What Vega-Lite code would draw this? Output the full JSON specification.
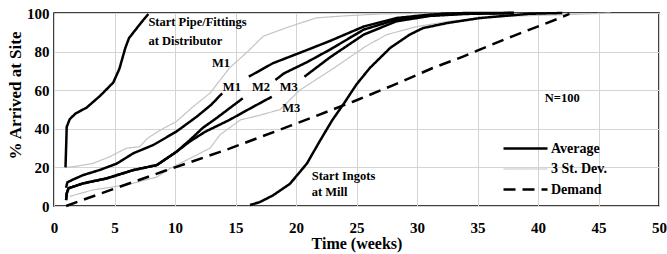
{
  "$schema": "https://vega.github.io/schema/vega-lite/v6.json",
  "autosize": {"type": "none"},
  "padding": {"left": 54, "top": 13, "right": 8, "bottom": 48},
  "width": 605,
  "height": 193,
  "background": "white",
  "config": {
    "view": {"stroke": "black", "strokeWidth": 1.5},
    "font": "Liberation Serif",
    "axis": {
      "labelFont": "Liberation Serif", "labelFontWeight": "bold", "labelFontSize": 15, "labelColor": "black",
      "titleFont": "Liberation Serif", "titleFontWeight": "bold", "titleColor": "black",
      "grid": true, "gridColor": "#d4d4d4", "gridWidth": 1, "domain": false, "ticks": false,
      "labelOverlap": false, "labelFlush": false, "labelBound": false
    }
  },
  "datasets": {
    "lines": [
      {"s": "a_gu", "t": "3 St. Dev.", "x": 1.0, "y": 20},
      {"s": "a_gu", "t": "3 St. Dev.", "x": 1.6, "y": 20.4},
      {"s": "a_gu", "t": "3 St. Dev.", "x": 3.2, "y": 22},
      {"s": "a_gu", "t": "3 St. Dev.", "x": 4.6, "y": 25.5},
      {"s": "a_gu", "t": "3 St. Dev.", "x": 6.0, "y": 30},
      {"s": "a_gu", "t": "3 St. Dev.", "x": 7.1, "y": 30.7},
      {"s": "a_gu", "t": "3 St. Dev.", "x": 7.7, "y": 35},
      {"s": "a_gu", "t": "3 St. Dev.", "x": 8.8, "y": 39.4},
      {"s": "a_gu", "t": "3 St. Dev.", "x": 10.1, "y": 43.7},
      {"s": "a_gu", "t": "3 St. Dev.", "x": 11.5, "y": 51.5},
      {"s": "a_gu", "t": "3 St. Dev.", "x": 12.9, "y": 58.5},
      {"s": "a_gu", "t": "3 St. Dev.", "x": 14.5, "y": 71.5},
      {"s": "a_gu", "t": "3 St. Dev.", "x": 16.0, "y": 80},
      {"s": "a_gu", "t": "3 St. Dev.", "x": 17.3, "y": 88},
      {"s": "a_gu", "t": "3 St. Dev.", "x": 19.5, "y": 93},
      {"s": "a_gu", "t": "3 St. Dev.", "x": 21.7, "y": 97.5},
      {"s": "a_gu", "t": "3 St. Dev.", "x": 24.0, "y": 98.5},
      {"s": "a_gu", "t": "3 St. Dev.", "x": 27.0, "y": 99.5},
      {"s": "a_gu", "t": "3 St. Dev.", "x": 32.0, "y": 100},
      {"s": "a_gl", "t": "3 St. Dev.", "x": 1.3, "y": 5},
      {"s": "a_gl", "t": "3 St. Dev.", "x": 3.2, "y": 8.3},
      {"s": "a_gl", "t": "3 St. Dev.", "x": 6.0, "y": 11},
      {"s": "a_gl", "t": "3 St. Dev.", "x": 8.5, "y": 15},
      {"s": "a_gl", "t": "3 St. Dev.", "x": 9.6, "y": 19.5},
      {"s": "a_gl", "t": "3 St. Dev.", "x": 11.5, "y": 25.5},
      {"s": "a_gl", "t": "3 St. Dev.", "x": 12.9, "y": 30},
      {"s": "a_gl", "t": "3 St. Dev.", "x": 13.7, "y": 36.8},
      {"s": "a_gl", "t": "3 St. Dev.", "x": 15.4, "y": 44.6},
      {"s": "a_gl", "t": "3 St. Dev.", "x": 17.0, "y": 47},
      {"s": "a_gl", "t": "3 St. Dev.", "x": 18.7, "y": 50},
      {"s": "a_gl", "t": "3 St. Dev.", "x": 20.3, "y": 60},
      {"s": "a_gl", "t": "3 St. Dev.", "x": 23.1, "y": 71.3},
      {"s": "a_gl", "t": "3 St. Dev.", "x": 25.7, "y": 82.5},
      {"s": "a_gl", "t": "3 St. Dev.", "x": 27.5, "y": 88.8},
      {"s": "a_gl", "t": "3 St. Dev.", "x": 30.0, "y": 93},
      {"s": "a_gl", "t": "3 St. Dev.", "x": 33.0, "y": 96},
      {"s": "a_gl", "t": "3 St. Dev.", "x": 37.4, "y": 98.3},
      {"s": "a_gl", "t": "3 St. Dev.", "x": 43.0, "y": 99.3},
      {"s": "a_gl", "t": "3 St. Dev.", "x": 46.0, "y": 100},
      {"s": "b_dem", "t": "Demand", "x": 1.0, "y": 0},
      {"s": "b_dem", "t": "Demand", "x": 2.0, "y": 2.3},
      {"s": "b_dem", "t": "Demand", "x": 5.0, "y": 9},
      {"s": "b_dem", "t": "Demand", "x": 9.3, "y": 18.5},
      {"s": "b_dem", "t": "Demand", "x": 14.5, "y": 29.7},
      {"s": "b_dem", "t": "Demand", "x": 19.5, "y": 41.5},
      {"s": "b_dem", "t": "Demand", "x": 24.7, "y": 54},
      {"s": "b_dem", "t": "Demand", "x": 28.0, "y": 62.5},
      {"s": "b_dem", "t": "Demand", "x": 31.3, "y": 71.5},
      {"s": "b_dem", "t": "Demand", "x": 33.8, "y": 77.4},
      {"s": "b_dem", "t": "Demand", "x": 37.5, "y": 87},
      {"s": "b_dem", "t": "Demand", "x": 41.8, "y": 97.4},
      {"s": "b_dem", "t": "Demand", "x": 42.6, "y": 99.5},
      {"s": "c_pipe", "t": "Average", "x": 0.95, "y": 20},
      {"s": "c_pipe", "t": "Average", "x": 1.0, "y": 30},
      {"s": "c_pipe", "t": "Average", "x": 1.05, "y": 41},
      {"s": "c_pipe", "t": "Average", "x": 1.3, "y": 45},
      {"s": "c_pipe", "t": "Average", "x": 1.8, "y": 48},
      {"s": "c_pipe", "t": "Average", "x": 2.7, "y": 51},
      {"s": "c_pipe", "t": "Average", "x": 3.8, "y": 57},
      {"s": "c_pipe", "t": "Average", "x": 4.9, "y": 64},
      {"s": "c_pipe", "t": "Average", "x": 5.4, "y": 71},
      {"s": "c_pipe", "t": "Average", "x": 5.9, "y": 82},
      {"s": "c_pipe", "t": "Average", "x": 6.2, "y": 87},
      {"s": "c_pipe", "t": "Average", "x": 6.7, "y": 91},
      {"s": "c_pipe", "t": "Average", "x": 7.2, "y": 95},
      {"s": "c_pipe", "t": "Average", "x": 7.8, "y": 99.5},
      {"s": "d_m1a", "t": "Average", "x": 1.0, "y": 9.5},
      {"s": "d_m1a", "t": "Average", "x": 1.1, "y": 12.2},
      {"s": "d_m1a", "t": "Average", "x": 1.5, "y": 13.5},
      {"s": "d_m1a", "t": "Average", "x": 2.4, "y": 16},
      {"s": "d_m1a", "t": "Average", "x": 3.8, "y": 18.7},
      {"s": "d_m1a", "t": "Average", "x": 5.2, "y": 22},
      {"s": "d_m1a", "t": "Average", "x": 6.55, "y": 27.3},
      {"s": "d_m1a", "t": "Average", "x": 8.2, "y": 31.6},
      {"s": "d_m1a", "t": "Average", "x": 10.1, "y": 38.5},
      {"s": "d_m1a", "t": "Average", "x": 11.8, "y": 46.3},
      {"s": "d_m1a", "t": "Average", "x": 13.0, "y": 52.5},
      {"s": "d_m1a", "t": "Average", "x": 13.9, "y": 58.4},
      {"s": "d_m1b", "t": "Average", "x": 16.1, "y": 67},
      {"s": "d_m1b", "t": "Average", "x": 18.1, "y": 74},
      {"s": "d_m1b", "t": "Average", "x": 20.9, "y": 80.8},
      {"s": "d_m1b", "t": "Average", "x": 22.8, "y": 85.5},
      {"s": "d_m1b", "t": "Average", "x": 25.6, "y": 93},
      {"s": "d_m1b", "t": "Average", "x": 28.3, "y": 97.4},
      {"s": "d_m1b", "t": "Average", "x": 31.1, "y": 99.2},
      {"s": "d_m1b", "t": "Average", "x": 34.0, "y": 100},
      {"s": "d_m1b", "t": "Average", "x": 38.0, "y": 100},
      {"s": "e_m2a", "t": "Average", "x": 1.0, "y": 3},
      {"s": "e_m2a", "t": "Average", "x": 1.05, "y": 6.5},
      {"s": "e_m2a", "t": "Average", "x": 1.2, "y": 9.2},
      {"s": "e_m2a", "t": "Average", "x": 2.4, "y": 11.7},
      {"s": "e_m2a", "t": "Average", "x": 4.35, "y": 14.3},
      {"s": "e_m2a", "t": "Average", "x": 6.55, "y": 18.6},
      {"s": "e_m2a", "t": "Average", "x": 8.5, "y": 21.2},
      {"s": "e_m2a", "t": "Average", "x": 10.1, "y": 28},
      {"s": "e_m2a", "t": "Average", "x": 11.2, "y": 34},
      {"s": "e_m2a", "t": "Average", "x": 12.3, "y": 40.5},
      {"s": "e_m2a", "t": "Average", "x": 13.4, "y": 45.4},
      {"s": "e_m2a", "t": "Average", "x": 14.5, "y": 50.6},
      {"s": "e_m2a", "t": "Average", "x": 15.6, "y": 55.8},
      {"s": "e_m2b", "t": "Average", "x": 18.3, "y": 65.3},
      {"s": "e_m2b", "t": "Average", "x": 19.0, "y": 68.7},
      {"s": "e_m2b", "t": "Average", "x": 20.9, "y": 74.5},
      {"s": "e_m2b", "t": "Average", "x": 22.8, "y": 81},
      {"s": "e_m2b", "t": "Average", "x": 25.6, "y": 91.4},
      {"s": "e_m2b", "t": "Average", "x": 28.3, "y": 96.6},
      {"s": "e_m2b", "t": "Average", "x": 31.1, "y": 98.8},
      {"s": "e_m2b", "t": "Average", "x": 34.0, "y": 99.7},
      {"s": "e_m2b", "t": "Average", "x": 38.0, "y": 100},
      {"s": "f_m3a", "t": "Average", "x": 1.0, "y": 3},
      {"s": "f_m3a", "t": "Average", "x": 1.05, "y": 6.5},
      {"s": "f_m3a", "t": "Average", "x": 1.2, "y": 9.2},
      {"s": "f_m3a", "t": "Average", "x": 2.4, "y": 11.7},
      {"s": "f_m3a", "t": "Average", "x": 4.35, "y": 14.3},
      {"s": "f_m3a", "t": "Average", "x": 6.55, "y": 18.6},
      {"s": "f_m3a", "t": "Average", "x": 8.5, "y": 21.2},
      {"s": "f_m3a", "t": "Average", "x": 10.1, "y": 28},
      {"s": "f_m3a", "t": "Average", "x": 11.2, "y": 33.3},
      {"s": "f_m3a", "t": "Average", "x": 12.5, "y": 38.5},
      {"s": "f_m3a", "t": "Average", "x": 14.5, "y": 44.6},
      {"s": "f_m3a", "t": "Average", "x": 16.2, "y": 50.5},
      {"s": "f_m3a", "t": "Average", "x": 18.0, "y": 56.6},
      {"s": "f_m3b", "t": "Average", "x": 20.7, "y": 67},
      {"s": "f_m3b", "t": "Average", "x": 22.8, "y": 77},
      {"s": "f_m3b", "t": "Average", "x": 25.6, "y": 88.8},
      {"s": "f_m3b", "t": "Average", "x": 28.3, "y": 95.7},
      {"s": "f_m3b", "t": "Average", "x": 31.1, "y": 98.5},
      {"s": "f_m3b", "t": "Average", "x": 34.0, "y": 99.5},
      {"s": "f_m3b", "t": "Average", "x": 38.0, "y": 100},
      {"s": "g_ingot", "t": "Average", "x": 16.2, "y": 0.5},
      {"s": "g_ingot", "t": "Average", "x": 17.0, "y": 2},
      {"s": "g_ingot", "t": "Average", "x": 18.1, "y": 5.5},
      {"s": "g_ingot", "t": "Average", "x": 19.5, "y": 11.5},
      {"s": "g_ingot", "t": "Average", "x": 20.9, "y": 22},
      {"s": "g_ingot", "t": "Average", "x": 22.0, "y": 34},
      {"s": "g_ingot", "t": "Average", "x": 23.0, "y": 44.5},
      {"s": "g_ingot", "t": "Average", "x": 24.0, "y": 53.5},
      {"s": "g_ingot", "t": "Average", "x": 25.0, "y": 63},
      {"s": "g_ingot", "t": "Average", "x": 26.1, "y": 71.5},
      {"s": "g_ingot", "t": "Average", "x": 27.8, "y": 82},
      {"s": "g_ingot", "t": "Average", "x": 29.4, "y": 88.8},
      {"s": "g_ingot", "t": "Average", "x": 30.5, "y": 92.2},
      {"s": "g_ingot", "t": "Average", "x": 32.5, "y": 94.8},
      {"s": "g_ingot", "t": "Average", "x": 35.2, "y": 97.4},
      {"s": "g_ingot", "t": "Average", "x": 39.3, "y": 99.6},
      {"s": "g_ingot", "t": "Average", "x": 42.0, "y": 100}
    ],
    "labels": [
      {"text": "Start Pipe/Fittings", "g": "left", "x": 7.8, "y": 95.5},
      {"text": "at Distributor", "g": "left", "x": 7.8, "y": 85.3},
      {"text": "Start Ingots", "g": "left", "x": 21.3, "y": 15.5},
      {"text": "at Mill", "g": "left", "x": 21.3, "y": 7.4},
      {"text": "M1", "g": "center", "x": 13.8, "y": 74},
      {"text": "M1", "g": "center", "x": 14.7, "y": 61.8},
      {"text": "M2", "g": "center", "x": 17.1, "y": 61.6},
      {"text": "M3", "g": "center", "x": 19.4, "y": 61.6},
      {"text": "M3", "g": "center", "x": 19.6, "y": 50.8},
      {"text": "N=100", "g": "center", "x": 42.0, "y": 56}
    ]
  },
  "encoding": {
    "x": {"field": "x", "type": "quantitative", "scale": {"domain": [0, 50], "nice": false},
          "axis": {"values": [0, 5, 10, 15, 20, 25, 30, 35, 40, 45, 50], "title": "Time (weeks)", "titleFontSize": 16, "labelPadding": 14, "titlePadding": 0, "labelOverlap": false}},
    "y": {"field": "y", "type": "quantitative", "scale": {"domain": [0, 100], "nice": false},
          "axis": {"values": [0, 20, 40, 60, 80, 100], "title": "% Arrived at Site", "titleFontSize": 17, "labelPadding": 5, "titlePadding": 2, "titleY": 82, "labelOverlap": false}}
  },
  "layer": [
    {
      "data": {"name": "lines"},
      "mark": {"type": "line", "strokeCap": "butt", "strokeJoin": "round"},
      "encoding": {
        "detail": {"field": "s"},
        "color": {"field": "t", "type": "nominal",
                  "scale": {"domain": ["Average", "3 St. Dev.", "Demand"], "range": ["#000000", "#c4c4c4", "#000000"]},
                  "legend": {"title": null, "orient": "none", "legendX": 459, "legendY": 123, "symbolType": "M-2,0H2", "symbolSize": 484,
                             "labelFont": "Liberation Serif", "labelFontWeight": "bold", "labelFontSize": 14, "labelColor": "black", "labelOffset": 13, "rowPadding": 1, "padding": 0}},
        "strokeDash": {"field": "t", "type": "nominal",
                       "scale": {"type": "ordinal", "domain": ["Average", "3 St. Dev.", "Demand"], "range": [[1, 0], [1, 0], [12, 7]]}},
        "strokeWidth": {"field": "t", "type": "nominal",
                        "scale": {"type": "ordinal", "domain": ["Average", "3 St. Dev.", "Demand"], "range": [2.5, 1.2, 2.5]}}
      }
    },
    {
      "data": {"name": "labels"},
      "transform": [{"filter": "datum.g === 'left'"}],
      "mark": {"type": "text", "align": "left", "baseline": "middle", "font": "Liberation Serif", "fontWeight": "bold", "fontSize": 12.5, "color": "black"},
      "encoding": {
        "text": {"field": "text"}
      }
    },
    {
      "data": {"name": "labels"},
      "transform": [{"filter": "datum.g === 'center'"}],
      "mark": {"type": "text", "align": "center", "baseline": "middle", "font": "Liberation Serif", "fontWeight": "bold", "fontSize": 12.5, "color": "black"},
      "encoding": {
        "text": {"field": "text"}
      }
    }
  ]
}
